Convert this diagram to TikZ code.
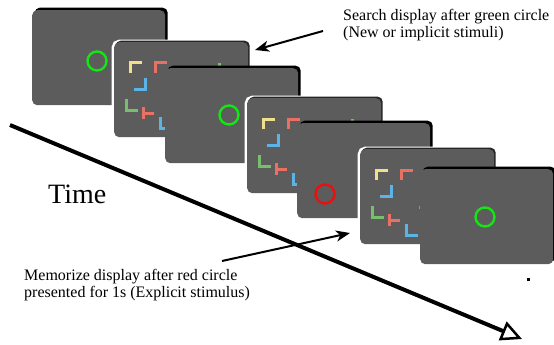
\documentclass[tikz,border=0pt]{standalone}
\usepackage{fontspec}
\setmainfont{Liberation Serif}
\usetikzlibrary{arrows.meta}
\definecolor{scr}{RGB}{92,92,92}
\definecolor{cyel}{RGB}{240,224,140}
\definecolor{cred}{RGB}{232,112,100}
\definecolor{cblu}{RGB}{90,180,230}
\definecolor{cgrn}{RGB}{120,190,110}
\definecolor{ring}{RGB}{20,230,20}
\definecolor{redring}{RGB}{235,15,15}
\newcommand\mysearchitems{%
  \draw[itm, cyel] (28,21) -- (16,21) -- (16,31);
  \draw[itm, cred] (53,21) -- (41,21) -- (41,31);
  \draw[itm, cblu] (31,36) -- (31,47) -- (20,47);
  \draw[itm, cgrn] (12,57) -- (12,68) -- (24,68);
  \draw[itm, cred] (29,65) -- (29,77) (29,71) -- (40,71);
  \draw[itm, cblu] (46,75) -- (46,86) -- (58,86);
  \draw[itm, cred] (59,58) -- (71,58) (65,58) -- (65,69);
  \draw[itm, cgrn] (105,21) -- (105,32) -- (95,32);
}
\tikzset{
  screen/.style={anchor=north west, minimum width=133pt, minimum height=95pt,
    inner sep=0pt, rounded corners=5pt, fill=scr,
    preaction={fill=black, transform canvas={xshift=2.5pt, yshift=2.5pt}}},
  searchscreen/.style={anchor=north west, minimum width=134pt, minimum height=95pt,
    inner sep=0pt, rounded corners=5pt, fill=scr,
    preaction={draw=white, line width=5pt},
    preaction={fill=black!85, transform canvas={xshift=1.5pt, yshift=1.5pt}}},
  itm/.style={line width=3pt},
  ringline/.style={line width=2.4pt},
  note/.style={font=\fontsize{16}{17}\selectfont, align=left, inner sep=0pt, anchor=north west},
  pointer/.style={line width=2pt, -{Stealth[length=14pt, width=11pt, inset=4pt]}},
}
\begin{document}
\begin{tikzpicture}[x=1pt, y=-1pt]
\useasboundingbox (0,0) rectangle (554,345);

% screen A
\node[screen] (A) at (32,10) {};
\draw[ringline, ring] ([shift={(65,51)}]A.north west) circle (9.5);
% screen B
\node[searchscreen] (B) at (114,42) {};
\begin{scope}[shift={(B.north west)}]\mysearchitems\end{scope}
% screen C
\node[screen] (C) at (165,68) {};
\draw[ringline, ring] ([shift={(64,47)}]C.north west) circle (9.5);
% screen D
\node[searchscreen] (D) at (247,98) {};
\begin{scope}[shift={(D.north west)}]\mysearchitems\end{scope}
% screen E
\node[screen] (E) at (297,123) {};
\draw[ringline, redring] ([shift={(28,71)}]E.north west) circle (9.5);
% screen F
\node[searchscreen] (F) at (360,149) {};
\begin{scope}[shift={(F.north west)}]\mysearchitems\end{scope}
% screen G
\node[screen] (G) at (420,169) {};
\draw[ringline, ring] ([shift={(65,48)}]G.north west) circle (9.5);

% small dot
\fill (526.5,277.5) rectangle ++(3,3);

% time axis
\coordinate (ts) at (10,125);
\coordinate (te) at (522,339);
\draw[line width=4pt, -{Triangle[open, length=21pt, width=20pt, line width=2.5pt]}] (ts) -- (te);
\node[font=\fontsize{28}{31}\selectfont, anchor=base west, inner sep=0pt] (time) at (48,203) {Time};

% notes
\node[note] (topnote) at (343,9.5) {Search display after green circle\\(New or implicit stimuli)};
\node[note] (botnote) at (24,269) {Memorize display after red circle\\presented for 1s (Explicit stimulus)};
\coordinate (topfrom) at (323,31);
\coordinate (topto) at (255,50);
\coordinate (botfrom) at (222,261);
\coordinate (botto) at (350,233);
\draw[pointer] (topfrom) -- (topto);
\draw[pointer] (botfrom) -- (botto);
\end{tikzpicture}
\end{document}
